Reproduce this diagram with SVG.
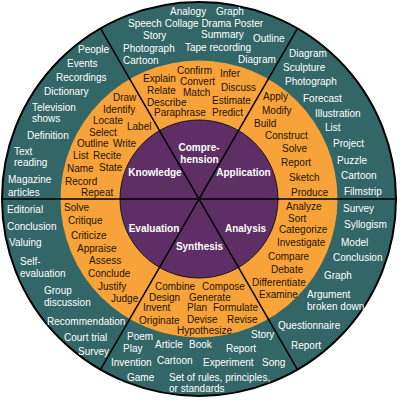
<svg xmlns="http://www.w3.org/2000/svg" width="400" height="400" viewBox="0 0 400 400">
<style>
text{font-family:"Liberation Sans",Arial,sans-serif;font-size:10px}
.t{fill:#ffffff}
.o{fill:#231405}
.p{fill:#ffffff;font-weight:bold;text-anchor:middle}
.div{stroke:#000;stroke-width:1.5;fill:none}
</style>
<rect width="400" height="400" fill="#ffffff"/>
<g id="rings">
<circle cx="199" cy="199" r="197" fill="#336767" stroke="#000" stroke-width="2"/>
<circle cx="199" cy="199" r="138.5" fill="#f8a23a"/>
<circle cx="199" cy="199" r="79" fill="#5d2f65" stroke="#1e0f22" stroke-width="1"/>
</g>
<g id="connectors">
<line class="div" x1="2" y1="199" x2="396" y2="199"/>
<line class="div" x1="297.5" y1="28.4" x2="100.5" y2="369.6"/>
<line class="div" x1="100.5" y1="28.4" x2="297.5" y2="369.6"/>
</g>
<g id="knowledge">
<text class="p" x="155" y="176">Knowledge</text>
<text class="o" x="113" y="100.5">Draw</text>
<text class="o" x="103" y="112.5">Identify</text>
<text class="o" x="93" y="123.5">Locate</text>
<text class="o" x="127" y="129.5">Label</text>
<text class="o" x="89" y="135.5">Select</text>
<text class="o" x="77" y="146.5">Outline</text>
<text class="o" x="113" y="146.5">Write</text>
<text class="o" x="73" y="158.5">List</text>
<text class="o" x="93" y="158.5">Recite</text>
<text class="o" x="67" y="171.5">Name</text>
<text class="o" x="99" y="171">State</text>
<text class="o" x="65" y="184.5">Record</text>
<text class="o" x="81" y="195.5">Repeat</text>
<text class="t" x="78" y="52.5">People</text>
<text class="t" x="67" y="66.5">Events</text>
<text class="t" x="56" y="80.5">Recordings</text>
<text class="t" x="44" y="94.5">Dictionary</text>
<text class="t" x="32" y="110.5">Television</text>
<text class="t" x="32" y="121.5">shows</text>
<text class="t" x="27" y="139">Definition</text>
<text class="t" x="14" y="154.5">Text</text>
<text class="t" x="14" y="166">reading</text>
<text class="t" x="8" y="182.5">Magazine</text>
<text class="t" x="8" y="195.5">articles</text>
</g>
<g id="comprehension">
<text class="p" x="199" y="150.5">Compre-</text>
<text class="p" x="199.5" y="162.5">hension</text>
<text class="o" x="177" y="73.5">Confirm</text>
<text class="o" x="220" y="77">Infer</text>
<text class="o" x="143" y="82">Explain</text>
<text class="o" x="180" y="84.5">Convert</text>
<text class="o" x="147" y="93.5">Relate</text>
<text class="o" x="183" y="95.5">Match</text>
<text class="o" x="221" y="90.5">Discuss</text>
<text class="o" x="147" y="105.5">Describe</text>
<text class="o" x="212" y="103.5">Estimate</text>
<text class="o" x="154" y="116">Paraphrase</text>
<text class="o" x="212" y="116">Predict</text>
<text class="t" x="170" y="14.5">Analogy</text>
<text class="t" x="216" y="15">Graph</text>
<text class="t" x="128" y="27">Speech Collage Drama Poster</text>
<text class="t" x="143" y="38.5">Story</text>
<text class="t" x="201" y="38">Summary</text>
<text class="t" x="253" y="41.5">Outline</text>
<text class="t" x="123" y="51.5">Photograph</text>
<text class="t" x="185" y="50.5">Tape recording</text>
<text class="t" x="123" y="63.5">Cartoon</text>
<text class="t" x="238" y="62.5">Diagram</text>
</g>
<g id="application">
<text class="p" x="243.5" y="176">Application</text>
<text class="o" x="263" y="100">Apply</text>
<text class="o" x="262" y="113.5">Modify</text>
<text class="o" x="254" y="126.5">Build</text>
<text class="o" x="265" y="138.5">Construct</text>
<text class="o" x="282" y="151.5">Solve</text>
<text class="o" x="281" y="165.5">Report</text>
<text class="o" x="289" y="180.5">Sketch</text>
<text class="o" x="291" y="195.5">Produce</text>
<text class="t" x="289" y="56.5">Diagram</text>
<text class="t" x="283" y="70.5">Sculpture</text>
<text class="t" x="285" y="84.5">Photograph</text>
<text class="t" x="303" y="101.5">Forecast</text>
<text class="t" x="315" y="116.5">Illustration</text>
<text class="t" x="325" y="130.5">List</text>
<text class="t" x="333" y="146.5">Project</text>
<text class="t" x="337" y="163.5">Puzzle</text>
<text class="t" x="341" y="178.5">Cartoon</text>
<text class="t" x="344" y="194.5">Filmstrip</text>
</g>
<g id="analysis">
<text class="p" x="245.5" y="231.5">Analysis</text>
<text class="o" x="286" y="209.5">Analyze</text>
<text class="o" x="288" y="221.5">Sort</text>
<text class="o" x="279" y="232.5">Categorize</text>
<text class="o" x="277" y="245.5">Investigate</text>
<text class="o" x="268" y="259.5">Compare</text>
<text class="o" x="271" y="272.5">Debate</text>
<text class="o" x="252" y="285.5">Differentiate</text>
<text class="o" x="259" y="297.5">Examine</text>
<text class="t" x="343" y="211.5">Survey</text>
<text class="t" x="344" y="227.5">Syllogism</text>
<text class="t" x="341" y="245.5">Model</text>
<text class="t" x="333" y="260.5">Conclusion</text>
<text class="t" x="324" y="278.5">Graph</text>
<text class="t" x="307" y="297.5">Argument</text>
<text class="t" x="307" y="309.5">broken down</text>
<text class="t" x="278" y="328.5">Questionnaire</text>
<text class="t" x="291" y="348.5">Report</text>
</g>
<g id="synthesis">
<text class="p" x="199.5" y="249.5">Synthesis</text>
<text class="o" x="155" y="289.5">Combine</text>
<text class="o" x="202" y="289.5">Compose</text>
<text class="o" x="149" y="300.5">Design</text>
<text class="o" x="189" y="300.5">Generate</text>
<text class="o" x="143" y="310.5">Invent</text>
<text class="o" x="187" y="310.5">Plan</text>
<text class="o" x="213" y="310.5">Formulate</text>
<text class="o" x="139" y="323.5">Originate</text>
<text class="o" x="187" y="323">Devise</text>
<text class="o" x="227" y="323">Revise</text>
<text class="o" x="177" y="333.5">Hypothesize</text>
<text class="t" x="127" y="339.5">Poem</text>
<text class="t" x="123" y="352">Play</text>
<text class="t" x="111" y="366">Invention</text>
<text class="t" x="127" y="381">Game</text>
<text class="t" x="155" y="348">Article</text>
<text class="t" x="189" y="348">Book</text>
<text class="t" x="157" y="364">Cartoon</text>
<text class="t" x="226" y="352">Report</text>
<text class="t" x="251" y="338">Story</text>
<text class="t" x="203" y="366">Experiment</text>
<text class="t" x="262" y="366">Song</text>
<text class="t" x="169" y="381">Set of rules, principles,</text>
<text class="t" x="169" y="392">or standards</text>
</g>
<g id="evaluation">
<text class="p" x="154" y="231.5">Evaluation</text>
<text class="o" x="64" y="210.5">Solve</text>
<text class="o" x="68" y="223.5">Critique</text>
<text class="o" x="71" y="238.5">Criticize</text>
<text class="o" x="77" y="251.5">Appraise</text>
<text class="o" x="89" y="263.5">Assess</text>
<text class="o" x="88" y="276.5">Conclude</text>
<text class="o" x="98" y="290">Justify</text>
<text class="o" x="111" y="302">Judge</text>
<text class="t" x="7" y="212.5">Editorial</text>
<text class="t" x="7" y="229.5">Conclusion</text>
<text class="t" x="9" y="245.5">Valuing</text>
<text class="t" x="20" y="264.5">Self-</text>
<text class="t" x="20" y="276.5">evaluation</text>
<text class="t" x="44" y="293.5">Group</text>
<text class="t" x="44" y="305.5">discussion</text>
<text class="t" x="47" y="324.5">Recommendation</text>
<text class="t" x="64" y="340.5">Court trial</text>
<text class="t" x="78" y="354.5">Survey</text>
</g>
</svg>
